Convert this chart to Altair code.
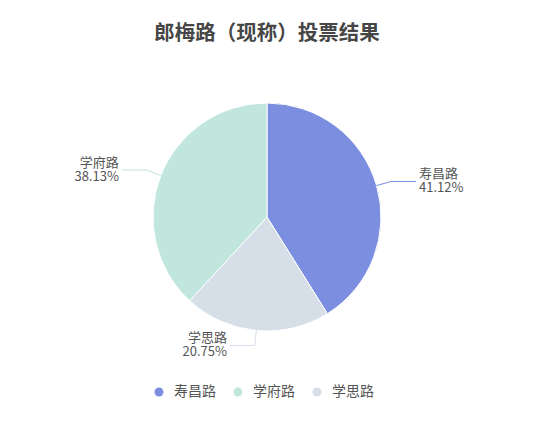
import altair as alt
import pandas as pd

# Slices in drawing order (clockwise from 12 o'clock)
names = ["寿昌路", "学思路", "学府路"]
shares = [41.12, 20.75, 38.13]          # percent
order_idx = [0, 1, 2]

# Legend order and colours
legend_order = ["寿昌路", "学府路", "学思路"]
palette = ["#7b8ee0", "#c0e6dd", "#d6dee8"]

FONT = "Noto Sans CJK SC"
W, H = 518, 298
R = 114
L1, L2 = 15, 25

df = pd.DataFrame({"name": names, "share": shares, "idx": order_idx})

color_scale = alt.Scale(domain=legend_order, range=palette)

arc = alt.Chart(df).mark_arc(radius=R, stroke="white", strokeWidth=1).encode(
    theta=alt.Theta("share:Q", stack=True),
    order=alt.Order("idx:Q"),
    color=alt.Color(
        "name:N",
        scale=color_scale,
        legend=alt.Legend(
            title=None,
            orient="none",
            legendX=144,
            legendY=317,
            direction="horizontal",
            symbolType="circle",
            symbolSize=80,
            symbolStrokeWidth=0,
            labelFontSize=14,
            labelColor="#555555",
            labelFont=FONT,
            labelOffset=8,
            columnPadding=15,
            padding=0,
        ),
    ),
)

geo = (
    alt.Chart(df)
    .transform_window(cum="sum(share)", sort=[alt.SortField("idx")])
    .transform_joinaggregate(total="sum(share)")
    .transform_calculate(
        mid="2*PI*(datum.cum - datum.share/2)/datum.total",
    )
    .transform_calculate(
        side="sin(datum.mid) >= 0 ? 1 : -1",
        x0=f"{W/2} + {R}*sin(datum.mid)",
        y0=f"{H/2} - {R}*cos(datum.mid)",
        x1=f"{W/2} + {R + L1}*sin(datum.mid)",
        y1=f"{H/2} - {R + L1}*cos(datum.mid)",
    )
    .transform_calculate(
        x2=f"datum.x1 + datum.side*{L2}",
        tx=f"datum.x1 + datum.side*{L2 + 3}",
        pct="format(datum.share, '.2f') + '%'",
    )
)

col_nolegend = alt.Color("name:N", scale=color_scale, legend=None)

seg1 = geo.mark_rule(strokeWidth=1).encode(
    x=alt.X("x0:Q", scale=None),
    y=alt.Y("y0:Q", scale=None),
    x2="x1:Q",
    y2="y1:Q",
    color=col_nolegend,
)
seg2 = geo.mark_rule(strokeWidth=1).encode(
    x=alt.X("x1:Q", scale=None),
    y=alt.Y("y1:Q", scale=None),
    x2="x2:Q",
    y2="y1:Q",
    color=col_nolegend,
)


def label_layer(side_filter, align, field, dy):
    return geo.transform_filter(side_filter).mark_text(
        align=align, baseline="middle", fontSize=13, dy=dy,
        font=FONT, color="#555555",
    ).encode(
        x=alt.X("tx:Q", scale=None),
        y=alt.Y("y1:Q", scale=None),
        text=f"{field}:N",
    )


texts = [
    label_layer("datum.side > 0", "left", "name", -7),
    label_layer("datum.side > 0", "left", "pct", 7),
    label_layer("datum.side < 0", "right", "name", -7),
    label_layer("datum.side < 0", "right", "pct", 7),
]

chart = (
    alt.layer(arc, seg1, seg2, *texts)
    .properties(
        width=W,
        height=H,
        autosize=alt.AutoSizeParams(type="none"),
        padding={"top": 60, "left": 0, "right": 0, "bottom": 60},
        title=alt.TitleParams(
            "郎梅路（现称）投票结果",
            fontSize=20.5,
            fontWeight="bold",
            color="#464646",
            font=FONT,
            anchor="middle",
            frame="group",
            offset=24,
        ),
        background="white",
    )
    .configure_view(stroke=None)
)

chart.save("out.html", embed_options={"renderer": "svg", "actions": False})
